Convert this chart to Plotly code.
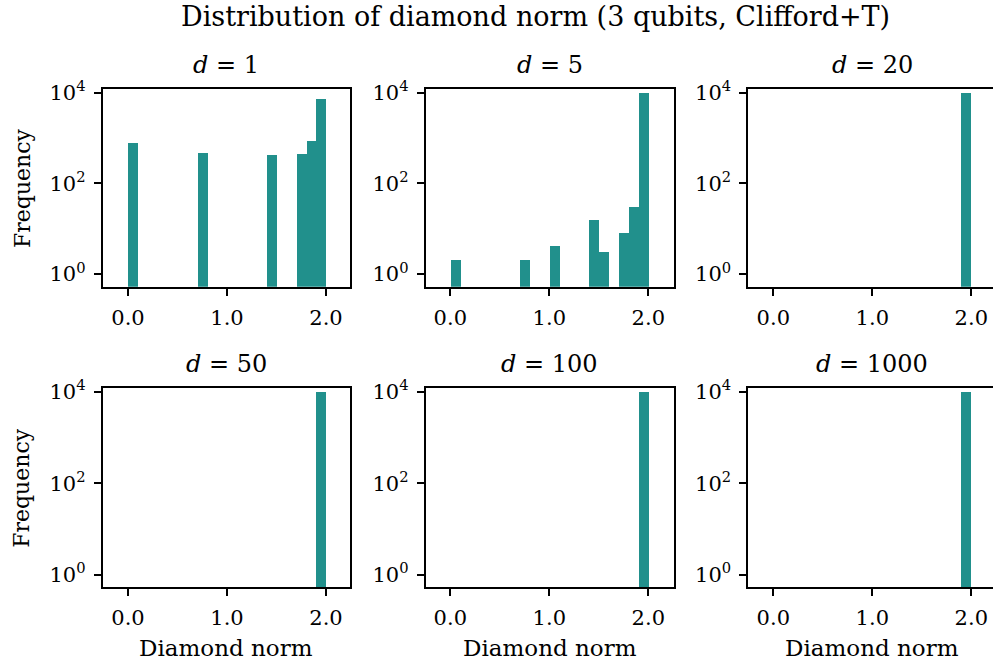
import plotly.graph_objects as go

# ---- data (histogram bins of width 0.1 over [0, 2]; only non-empty bins listed) ----
panel_titles = ["<i>d</i> = 1", "<i>d</i> = 5", "<i>d</i> = 20",
                "<i>d</i> = 50", "<i>d</i> = 100", "<i>d</i> = 1000"]

d1_centers = [0.05, 0.75, 1.45, 1.75, 1.85, 1.95]
d1_counts = [780, 470, 410, 430, 850, 7360]

d5_centers = [0.05, 0.75, 1.05, 1.45, 1.55, 1.75, 1.85, 1.95]
d5_counts = [2, 2, 4, 15, 3, 8, 30, 9936]

d20_centers = [1.95]
d20_counts = [10000]

d50_centers = [1.95]
d50_counts = [10000]

d100_centers = [1.95]
d100_counts = [10000]

d1000_centers = [1.95]
d1000_counts = [10000]

bin_width = 0.1
x_ticks = [0, 1, 2]
x_tick_text = ["0.0", "1.0", "2.0"]
y_ticks = [1, 100, 10000]
y_tick_text = ["10<sup>0</sup>", "10<sup>2</sup>", "10<sup>4</sup>"]

series = [(d1_centers, d1_counts), (d5_centers, d5_counts), (d20_centers, d20_counts),
          (d50_centers, d50_counts), (d100_centers, d100_counts), (d1000_centers, d1000_counts)]

# ---- layout geometry ----
W, H = 993, 666
BAR_COLOR = "#21908c"
FONT = "DejaVu Serif"
FS_TICK = 21
FS_LABEL = 23
FS_TITLE = 24

col_px = [(102.7, 350.0), (425.7, 674.0), (748.3, 993.0)]
row_px = [(89.3, 286.7), (388.3, 587.3)]
px_per_unit = 99.0
zero_px = [128.0, 450.3, 773.3]

fig = go.Figure()
layout_axes = {}
annotations = []

for i, (xs, ys) in enumerate(series):
    r, c = divmod(i, 3)
    k = i + 1
    xa = "x" if k == 1 else f"x{k}"
    ya = "y" if k == 1 else f"y{k}"
    fig.add_trace(go.Bar(
        x=xs, y=ys, width=[bin_width] * len(xs),
        marker=dict(color=BAR_COLOR, line=dict(width=0)),
        xaxis=xa, yaxis=ya, showlegend=False,
    ))
    x0, x1 = col_px[c]
    y0, y1 = row_px[r]
    xmin = -(zero_px[c] - x0) / px_per_unit
    xmax = xmin + (x1 - x0) / px_per_unit
    axis_common = dict(
        showline=True, linecolor="black", linewidth=1.8, mirror=True,
        ticks="outside", ticklen=7, tickwidth=1.6, tickcolor="black",
        showgrid=False, zeroline=False, automargin=False,
        tickfont=dict(family=FONT, size=FS_TICK, color="black"),
    )
    layout_axes["xaxis" if k == 1 else f"xaxis{k}"] = dict(
        domain=[x0 / W, x1 / W], range=[xmin, xmax], anchor=ya,
        tickvals=x_ticks, ticktext=x_tick_text, ticklabelstandoff=4,
        **axis_common,
    )
    layout_axes["yaxis" if k == 1 else f"yaxis{k}"] = dict(
        domain=[1 - y1 / H, 1 - y0 / H], type="log", range=[-0.28, 4.08], anchor=xa,
        tickvals=y_ticks, ticktext=y_tick_text, ticklabelstandoff=4,
        **axis_common,
    )
    # panel title
    annotations.append(dict(
        text=panel_titles[i], xref="paper", yref="paper",
        x=(x0 + x1) / 2 / W if c < 2 else (x0 + 247.5 / 2) / W,
        y=1 - (y0 - 24) / H, xanchor="center", yanchor="middle",
        showarrow=False, font=dict(family=FONT, size=FS_TITLE, color="black"),
    ))

# y-axis titles
for r in range(2):
    y0, y1 = row_px[r]
    annotations.append(dict(
        text="Frequency", xref="paper", yref="paper", x=22 / W, y=1 - (y0 + y1) / 2 / H,
        xanchor="center", yanchor="middle", textangle=-90, showarrow=False,
        font=dict(family=FONT, size=FS_LABEL - 1, color="black"),
    ))
# x-axis titles
for c in range(3):
    x0, x1 = col_px[c]
    cx = (x0 + x1) / 2 if c < 2 else x0 + 247.5 / 2
    annotations.append(dict(
        text="Diamond norm", xref="paper", yref="paper", x=cx / W, y=1 - 648 / H,
        xanchor="center", yanchor="middle", showarrow=False,
        font=dict(family=FONT, size=FS_LABEL, color="black"),
    ))
# main title
annotations.append(dict(
    text="Distribution of diamond norm (3 qubits, Clifford+T)", xref="paper", yref="paper",
    x=535 / W, y=1 - 16 / H, xanchor="center", yanchor="middle", showarrow=False,
    font=dict(family=FONT, size=27, color="black"),
))

fig.update_layout(
    template="none",
    width=W, height=H, margin=dict(l=0, r=0, t=0, b=0),
    paper_bgcolor="white", plot_bgcolor="white",
    bargap=0, annotations=annotations, **layout_axes,
)

fig.write_html(
    "out.html",
    config={"displayModeBar": False},
    post_script="document.body.style.margin='0px';document.body.style.overflow='hidden';",
)
